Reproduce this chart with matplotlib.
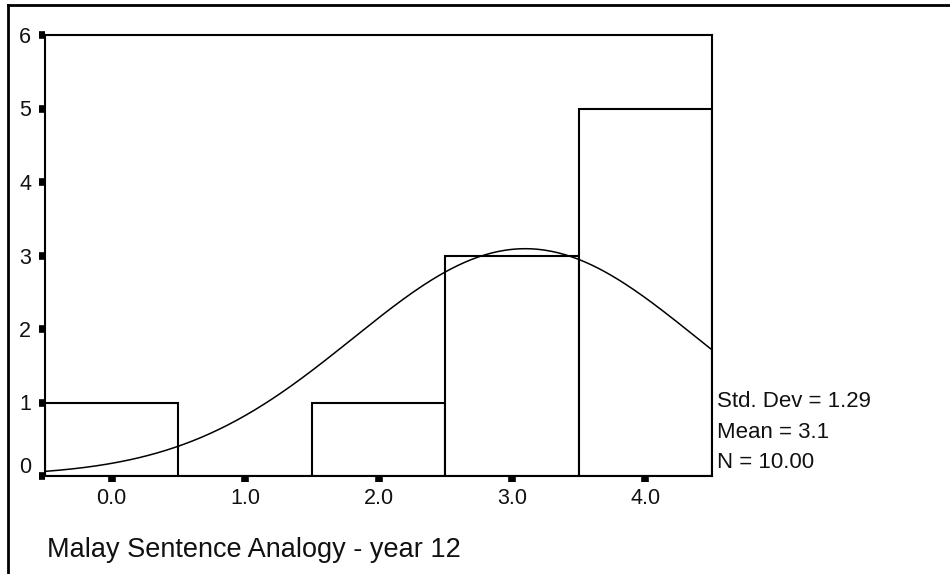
import matplotlib.pyplot as plt
import numpy as np
from matplotlib.lines import Line2D
from matplotlib.transforms import ScaledTranslation

plt.rcParams['font.family'] = ['Liberation Sans', 'DejaVu Sans']

# histogram data
bin_centers = [0, 1, 2, 3, 4]
counts = [1, 0, 1, 3, 5]
x_ticks = [0.0, 1.0, 2.0, 3.0, 4.0]
x_tick_labels = ['0.0', '1.0', '2.0', '3.0', '4.0']
y_ticks = [0, 1, 2, 3, 4, 5, 6]

# summary statistics shown next to the plot
std_dev = 1.29
mean = 3.1
n = 10
title = 'Malay Sentence Analogy - year 12'

W, H = 950, 574
fig = plt.figure(figsize=(W / 100, H / 100), dpi=100)
fig.patch.set_facecolor('white')

# axes box in pixel coordinates
left, right, top, bottom = 45, 712, 35, 476
ax = fig.add_axes([left / W, (H - bottom) / H, (right - left) / W, (bottom - top) / H])

ax.bar(bin_centers, counts, width=1.0, color='white', edgecolor='black',
       linewidth=1.5, zorder=2)

# fitted normal curve scaled to the counts (bin width 1)
xs = np.linspace(-0.5, 4.5, 300)
ys = n * 1.0 / (std_dev * np.sqrt(2 * np.pi)) * np.exp(-0.5 * ((xs - mean) / std_dev) ** 2)
ax.plot(xs, ys, color='black', linewidth=1.1, zorder=3)

ax.set_xlim(-0.5, 4.5)
ax.set_ylim(0, 6)
ax.set_xticks(x_ticks)
ax.set_xticklabels(x_tick_labels)
ax.set_yticks(y_ticks)
ax.set_yticklabels([str(v) for v in y_ticks])
ax.tick_params(axis='both', direction='out', length=4, width=5.5, color='black',
               labelsize=15.5, labelcolor='#111111')
ax.tick_params(axis='x', pad=5)
ax.tick_params(axis='y', pad=6)

# lift the "0" label above the x axis
zero_label = ax.get_yticklabels()[0]
zero_label.set_transform(zero_label.get_transform() +
                         ScaledTranslation(0, 11 / 100, fig.dpi_scale_trans))

for sp in ax.spines.values():
    sp.set_linewidth(1.5)
    sp.set_color('black')

# statistics block
stats = [f'Std. Dev = {std_dev:.2f}', f'Mean = {mean}', f'N = {n:.2f}']
for txt, base in zip(stats, [407, 438, 468]):
    fig.text(717 / W, 1 - base / H, txt, fontsize=16, color='#111111',
             ha='left', va='baseline')

fig.text(47 / W, 1 - 557 / H, title, fontsize=19.5, color='#111111',
         ha='left', va='baseline')

# outer frame lines (top and left)
fig.add_artist(Line2D([8 / W, 1], [1 - 5 / H, 1 - 5 / H], color='black',
                      linewidth=2, transform=fig.transFigure))
fig.add_artist(Line2D([8 / W, 8 / W], [0, 1 - 5 / H], color='black',
                      linewidth=2, transform=fig.transFigure))

fig.savefig('out.png', dpi=100, facecolor='white')
